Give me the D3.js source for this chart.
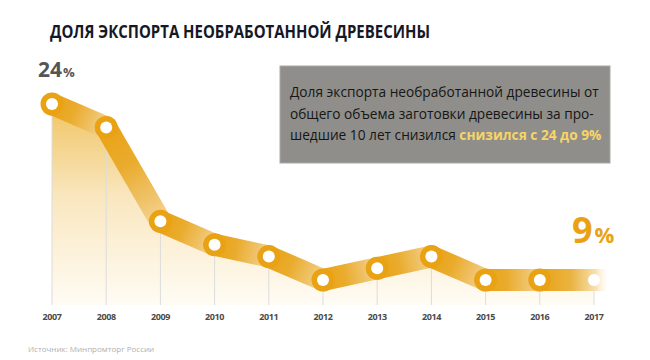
<!DOCTYPE html>
<html>
<head>
<meta charset="utf-8">
<script src="https://cdn.jsdelivr.net/npm/d3@7"></script>
<style>
  body { margin: 0; background: #fff; }
  svg { display: block; }
  text { font-family: "Open Sans", "Noto Sans", sans-serif; }
</style>
</head>
<body>
<div id="chart"></div>
<script>
const years = ["2007", "2008", "2009", "2010", "2011", "2012", "2013", "2014", "2015", "2016", "2017"];
const shares = [24, 22, 14, 12, 11, 9, 10, 11, 9, 9, 9];
const title = "ДОЛЯ ЭКСПОРТА НЕОБРАБОТАННОЙ ДРЕВЕСИНЫ";
const noteLines = [
    ["Доля экспорта необработанной древесины от", ""],
    ["общего объема заготовки древесины за про-", ""],
    ["шедшие 10 лет снизился ", "снизился с 24 до 9%"]
];
const source = "Источник: Минпромторг России";

const width = 650,
    height = 360,
    orange = "#e9a214",
    baseY = 305;

const svg = d3.select("#chart")
    .append("svg")
    .attr("width", width)
    .attr("height", height);

const x = d3.scalePoint().domain(years).range([52, 594]);
const y = d3.scaleLinear().domain([9, 24]).range([280, 104]);

const defs = svg.append("defs");

// vertical fade under the line
let areaGrad = defs.append("linearGradient")
    .attr("id", "areaGrad")
    .attr("gradientUnits", "userSpaceOnUse")
    .attr("x1", 0).attr("x2", 0)
    .attr("y1", y(24)).attr("y2", baseY);
areaGrad.append("stop").attr("offset", 0).attr("stop-color", "#f0c463");
areaGrad.append("stop").attr("offset", 0.45).attr("stop-color", "#f9e6bd");
areaGrad.append("stop").attr("offset", 1).attr("stop-color", "#fffcf5");

svg.append("path")
    .datum(years)
    .attr("d", d3.area()
        .x(d => x(d))
        .y0(baseY)
        .y1((d, i) => y(shares[i])))
    .attr("fill", "url(#areaGrad)");

// grid lines from each point down
svg.append("g")
    .selectAll("line")
    .data(years)
    .join("line")
    .attr("x1", d => x(d)).attr("x2", d => x(d))
    .attr("y1", (d, i) => y(shares[i]))
    .attr("y2", baseY)
    .attr("stroke", "#dcdcdc")
    .attr("stroke-width", 1);

// ribbon segments, each fading toward the next point
const segs = d3.range(years.length - 1).map(i => ({
    i: i,
    x1: x(years[i]), y1: y(shares[i]),
    x2: x(years[i + 1]), y2: y(shares[i + 1]),
    last: i === years.length - 2
}));

segs.forEach(s => {
    let extra = s.last ? 16 : 0;
    let g = defs.append("linearGradient")
        .attr("id", "seg" + s.i)
        .attr("gradientUnits", "userSpaceOnUse")
        .attr("x1", s.x1).attr("y1", s.y1)
        .attr("x2", s.x2 + extra).attr("y2", s.y2);
    if (s.last) {
        g.append("stop").attr("offset", 0).attr("stop-color", orange);
        g.append("stop").attr("offset", 0.45).attr("stop-color", "#eab443");
        g.append("stop").attr("offset", 0.8).attr("stop-color", "#f7e1b2");
        g.append("stop").attr("offset", 1).attr("stop-color", "#ffffff").attr("stop-opacity", 0);
    } else {
        g.append("stop").attr("offset", 0).attr("stop-color", orange);
        g.append("stop").attr("offset", 0.4).attr("stop-color", "#eaac2e");
        g.append("stop").attr("offset", 0.8).attr("stop-color", "#f0c570");
        g.append("stop").attr("offset", 1).attr("stop-color", "#f4d592");
    }
});

svg.append("g")
    .selectAll("line")
    .data(segs)
    .join("line")
    .attr("x1", d => d.x1).attr("y1", d => d.y1)
    .attr("x2", d => d.last ? d.x2 + 10 : d.x2).attr("y2", d => d.y2)
    .attr("stroke", d => `url(#seg${d.i})`)
    .attr("stroke-width", 22)
    .attr("stroke-linecap", "round");

// orange rings, later ones on top of earlier ribbon
svg.append("g")
    .selectAll("circle")
    .data(years.slice(0, -1))
    .join("circle")
    .attr("cx", d => x(d))
    .attr("cy", (d, i) => y(shares[i]))
    .attr("r", 11.5)
    .attr("fill", orange);

svg.append("g")
    .selectAll("circle")
    .data(years)
    .join("circle")
    .attr("cx", d => x(d))
    .attr("cy", (d, i) => y(shares[i]))
    .attr("r", 6)
    .attr("fill", "#fff");

// year labels
svg.append("g")
    .selectAll("text")
    .data(years)
    .join("text")
    .attr("x", d => x(d))
    .attr("y", 320)
    .attr("text-anchor", "middle")
    .attr("font-size", 9)
    .attr("font-weight", 700)
    .attr("letter-spacing", -0.4)
    .attr("fill", "#4a4a4a")
    .text(d => d);

// first and last values
let first = svg.append("text")
    .attr("x", 38).attr("y", 77)
    .attr("fill", "#555")
    .attr("font-weight", 700);
first.append("tspan").attr("font-size", 21).text(shares[0]);
first.append("tspan").attr("font-size", 13).attr("dx", 1).text("%");

let lastLbl = svg.append("text")
    .attr("x", 572).attr("y", 243)
    .attr("fill", orange)
    .attr("font-weight", 700);
lastLbl.append("tspan").attr("font-size", 36).text(shares[shares.length - 1]);
lastLbl.append("tspan").attr("font-size", 22).attr("dx", 2).text("%");

// title
svg.append("text")
    .attr("x", 50).attr("y", 38)
    .attr("font-size", 17)
    .attr("font-weight", 700)
    .attr("fill", "#151826")
    .attr("textLength", 380)
    .attr("lengthAdjust", "spacingAndGlyphs")
    .text(title);

// note box
svg.append("rect")
    .attr("x", 280).attr("y", 66)
    .attr("width", 330).attr("height", 97)
    .attr("fill", "#8f8e8a")
    .attr("stroke", "#a9a8a4")
    .attr("stroke-width", 1);

let note = svg.append("g");
noteLines.forEach((ln, i) => {
    let t = note.append("text")
        .attr("x", 290)
        .attr("y", 97 + i * 21.5)
        .attr("font-size", 13.7)
        .attr("fill", "#161616");
    t.append("tspan").text(ln[0]);
    if (ln[1]) {
        t.append("tspan")
            .attr("fill", "#f7d468")
            .attr("font-weight", 700)
            .text(ln[1]);
    }
});

// source
svg.append("text")
    .attr("x", 28).attr("y", 352)
    .attr("font-size", 8)
    .attr("fill", "#b0b0b0")
    .text(source);
</script>
</body>
</html>
